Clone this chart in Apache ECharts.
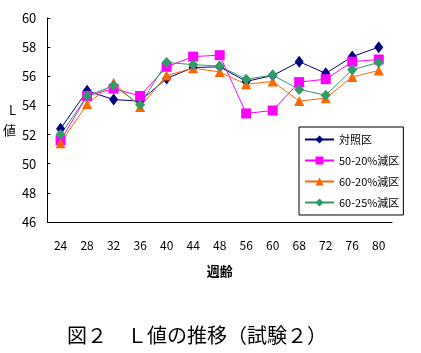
<!DOCTYPE html>
<html>
<head>
<meta charset="utf-8">
<script src="https://cdn.jsdelivr.net/npm/echarts@6/dist/echarts.min.js"></script>
<style>
  html, body { margin: 0; padding: 0; background: #fff; }
  #main { width: 421px; height: 353px; }
</style>
</head>
<body>
<div id="main"></div>
<script>
  // 週齢
  var weeks = ['24', '28', '32', '36', '40', '44', '48', '56', '60', '68', '72', '76', '80'];
  // L値
  var control = [52.4, 55.0, 54.4, 54.3, 55.85, 56.6, 56.65, 55.65, 56.05, 57.0, 56.2, 57.35, 58.0];
  var cut50_20 = [51.6, 54.65, 55.15, 54.65, 56.65, 57.35, 57.45, 53.45, 53.65, 55.6, 55.8, 57.0, 57.15];
  var cut60_20 = [51.4, 54.1, 55.55, 53.9, 56.05, 56.55, 56.3, 55.45, 55.65, 54.3, 54.5, 55.95, 56.4];
  var cut60_25 = [52.0, 54.65, 55.35, 54.05, 56.95, 56.8, 56.7, 55.8, 56.08, 55.1, 54.7, 56.45, 56.95];
  var seriesNames = ['対照区', '50-20%減区', '60-20%減区', '60-25%減区'];

  var font = '"Noto Sans CJK JP", sans-serif';
  var myChart = echarts.init(document.getElementById('main'));

  function line(name, data, color, symbol, size) {
    return {
      name: name,
      type: 'line',
      data: data,
      symbol: symbol,
      symbolSize: size,
      showAllSymbol: true,
      lineStyle: { color: color, width: 1 },
      itemStyle: { color: color },
      emphasis: { disabled: true },
      animation: false
    };
  }

  myChart.setOption({
    animation: false,
    textStyle: { fontFamily: font, color: '#000' },
    title: {
      text: '図２　Ｌ値の推移（試験２）',
      left: 62,
      top: 320,
      textStyle: { fontFamily: font, fontSize: 20, fontWeight: 'normal', color: '#000' }
    },
    grid: { left: 47, right: 29, top: 18, bottom: 131 },
    legend: {
      data: seriesNames,
      orient: 'vertical',
      left: 299,
      top: 127,
      width: 94,
      height: 86,
      padding: [7, 4, 7, 5],
      itemGap: 10,
      itemWidth: 29,
      itemHeight: 10,
      borderColor: '#000',
      borderWidth: 1,
      backgroundColor: '#fff',
      textStyle: { fontFamily: font, fontSize: 11, color: '#000' }
    },
    xAxis: {
      type: 'category',
      data: weeks,
      name: '週齢',
      nameLocation: 'middle',
      nameGap: 43,
      nameTextStyle: { fontFamily: font, fontSize: 13, fontWeight: 'bold', color: '#000' },
      axisLine: { lineStyle: { color: '#000', width: 1 } },
      axisTick: { inside: true, length: 4, lineStyle: { color: '#000' } },
      axisLabel: { margin: 17, fontFamily: font, fontSize: 12, color: '#000' },
      splitLine: { show: false }
    },
    yAxis: {
      type: 'value',
      min: 46,
      max: 60,
      interval: 2,
      name: 'L\n値',
      nameLocation: 'middle',
      nameRotate: 0,
      nameGap: 30,
      nameTextStyle: { fontFamily: font, fontSize: 13, lineHeight: 20, color: '#000' },
      axisLine: { show: true, lineStyle: { color: '#000', width: 1 } },
      axisTick: { show: true, inside: true, length: 3, lineStyle: { color: '#000' } },
      axisLabel: { margin: 11, fontFamily: font, fontSize: 13, color: '#000' },
      splitLine: { show: false }
    },
    series: [
      line(seriesNames[0], control, '#000080', 'diamond', [9, 12]),
      line(seriesNames[1], cut50_20, '#FF00FF', 'rect', [10, 10]),
      line(seriesNames[2], cut60_20, '#FF6600', 'triangle', [10, 10]),
      line(seriesNames[3], cut60_25, '#339966', 'diamond', [10, 11])
    ]
  });
</script>
</body>
</html>
